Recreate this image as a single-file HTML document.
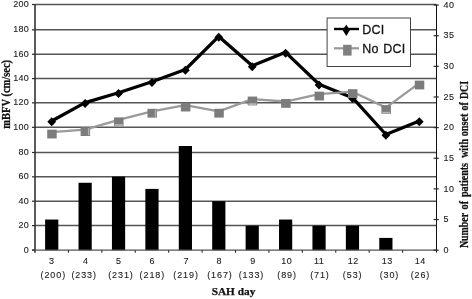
<!DOCTYPE html><html><head><meta charset="utf-8"><style>html,body{margin:0;padding:0;background:#fff;overflow:hidden}svg{display:block;will-change:transform}text{font-family:"Liberation Sans",sans-serif}.l{stroke:#1a1a1a;stroke-width:0.1}.t{font-family:"Liberation Serif",serif;font-weight:bold;stroke:#111;stroke-width:0.25}</style></head><body>
<svg width="472" height="299" viewBox="0 0 472 299">
<rect width="472" height="299" fill="#fff"/>
<line x1="35.0" y1="225.60" x2="436.0" y2="225.60" stroke="#555" stroke-width="1.5"/>
<line x1="35.0" y1="201.20" x2="436.0" y2="201.20" stroke="#555" stroke-width="1.5"/>
<line x1="35.0" y1="176.85" x2="436.0" y2="176.85" stroke="#555" stroke-width="1.5"/>
<line x1="35.0" y1="152.50" x2="436.0" y2="152.50" stroke="#555" stroke-width="1.5"/>
<line x1="35.0" y1="127.35" x2="436.0" y2="127.35" stroke="#555" stroke-width="1.5"/>
<line x1="35.0" y1="102.85" x2="436.0" y2="102.85" stroke="#555" stroke-width="1.5"/>
<line x1="35.0" y1="78.60" x2="436.0" y2="78.60" stroke="#555" stroke-width="1.5"/>
<line x1="35.0" y1="54.30" x2="436.0" y2="54.30" stroke="#555" stroke-width="1.5"/>
<line x1="35.0" y1="29.85" x2="436.0" y2="29.85" stroke="#555" stroke-width="1.5"/>
<line x1="35.0" y1="4.50" x2="436.0" y2="4.50" stroke="#555" stroke-width="1.5"/>
<rect x="45.11" y="219.54" width="13.2" height="30.64" fill="#000"/>
<rect x="78.53" y="182.77" width="13.2" height="67.41" fill="#000"/>
<rect x="111.94" y="176.64" width="13.2" height="73.54" fill="#000"/>
<rect x="145.36" y="188.90" width="13.2" height="61.28" fill="#000"/>
<rect x="178.78" y="146.00" width="13.2" height="104.18" fill="#000"/>
<rect x="212.19" y="201.16" width="13.2" height="49.02" fill="#000"/>
<rect x="245.61" y="225.67" width="13.2" height="24.51" fill="#000"/>
<rect x="279.02" y="219.54" width="13.2" height="30.64" fill="#000"/>
<rect x="312.44" y="225.67" width="13.2" height="24.51" fill="#000"/>
<rect x="345.86" y="225.67" width="13.2" height="24.51" fill="#000"/>
<rect x="379.27" y="237.92" width="13.2" height="12.26" fill="#000"/>
<line x1="35.0" y1="4.460000000000003" x2="35.0" y2="252.68" stroke="#333" stroke-width="1.6"/>
<line x1="436.5" y1="4.460000000000003" x2="436.5" y2="252.58" stroke="#111" stroke-width="1.05"/>
<line x1="32.0" y1="250.18" x2="436.0" y2="250.18" stroke="#555" stroke-width="1.3"/>
<line x1="32.0" y1="250.00" x2="35.0" y2="250.00" stroke="#2a2a2a" stroke-width="1.2"/>
<line x1="32.0" y1="225.60" x2="35.0" y2="225.60" stroke="#2a2a2a" stroke-width="1.2"/>
<line x1="32.0" y1="201.20" x2="35.0" y2="201.20" stroke="#2a2a2a" stroke-width="1.2"/>
<line x1="32.0" y1="176.85" x2="35.0" y2="176.85" stroke="#2a2a2a" stroke-width="1.2"/>
<line x1="32.0" y1="152.50" x2="35.0" y2="152.50" stroke="#2a2a2a" stroke-width="1.2"/>
<line x1="32.0" y1="127.35" x2="35.0" y2="127.35" stroke="#2a2a2a" stroke-width="1.2"/>
<line x1="32.0" y1="102.85" x2="35.0" y2="102.85" stroke="#2a2a2a" stroke-width="1.2"/>
<line x1="32.0" y1="78.60" x2="35.0" y2="78.60" stroke="#2a2a2a" stroke-width="1.2"/>
<line x1="32.0" y1="54.30" x2="35.0" y2="54.30" stroke="#2a2a2a" stroke-width="1.2"/>
<line x1="32.0" y1="29.85" x2="35.0" y2="29.85" stroke="#2a2a2a" stroke-width="1.2"/>
<line x1="32.0" y1="4.50" x2="35.0" y2="4.50" stroke="#2a2a2a" stroke-width="1.2"/>
<line x1="433.6" y1="250.18" x2="438.8" y2="250.18" stroke="#2a2a2a" stroke-width="1.2"/>
<line x1="433.6" y1="219.54" x2="438.8" y2="219.54" stroke="#2a2a2a" stroke-width="1.2"/>
<line x1="433.6" y1="188.90" x2="438.8" y2="188.90" stroke="#2a2a2a" stroke-width="1.2"/>
<line x1="433.6" y1="158.26" x2="438.8" y2="158.26" stroke="#2a2a2a" stroke-width="1.2"/>
<line x1="433.6" y1="127.62" x2="438.8" y2="127.62" stroke="#2a2a2a" stroke-width="1.2"/>
<line x1="433.6" y1="96.98" x2="438.8" y2="96.98" stroke="#2a2a2a" stroke-width="1.2"/>
<line x1="433.6" y1="66.34" x2="438.8" y2="66.34" stroke="#2a2a2a" stroke-width="1.2"/>
<line x1="433.6" y1="35.70" x2="438.8" y2="35.70" stroke="#2a2a2a" stroke-width="1.2"/>
<line x1="433.6" y1="5.06" x2="438.8" y2="5.06" stroke="#2a2a2a" stroke-width="1.2"/>
<line x1="68.42" y1="250.18" x2="68.42" y2="252.78" stroke="#2a2a2a" stroke-width="1.1"/>
<line x1="101.83" y1="250.18" x2="101.83" y2="252.78" stroke="#2a2a2a" stroke-width="1.1"/>
<line x1="135.25" y1="250.18" x2="135.25" y2="252.78" stroke="#2a2a2a" stroke-width="1.1"/>
<line x1="168.67" y1="250.18" x2="168.67" y2="252.78" stroke="#2a2a2a" stroke-width="1.1"/>
<line x1="202.08" y1="250.18" x2="202.08" y2="252.78" stroke="#2a2a2a" stroke-width="1.1"/>
<line x1="235.50" y1="250.18" x2="235.50" y2="252.78" stroke="#2a2a2a" stroke-width="1.1"/>
<line x1="268.92" y1="250.18" x2="268.92" y2="252.78" stroke="#2a2a2a" stroke-width="1.1"/>
<line x1="302.33" y1="250.18" x2="302.33" y2="252.78" stroke="#2a2a2a" stroke-width="1.1"/>
<line x1="335.75" y1="250.18" x2="335.75" y2="252.78" stroke="#2a2a2a" stroke-width="1.1"/>
<line x1="369.17" y1="250.18" x2="369.17" y2="252.78" stroke="#2a2a2a" stroke-width="1.1"/>
<line x1="402.58" y1="250.18" x2="402.58" y2="252.78" stroke="#2a2a2a" stroke-width="1.1"/>
<path d="M51.71,120.99 L85.12,102.61 L118.54,92.80 L151.96,81.77 L185.38,69.52 L218.79,36.43 L252.21,65.84 L285.62,52.36 L319.04,84.22 L352.46,97.71 L385.88,134.47 L419.29,120.99" fill="none" stroke="#000" stroke-width="3.25" stroke-linejoin="round"/>
<path d="M51.71,117.29 L56.11,121.79 L51.71,126.29 L47.31,121.79Z" fill="#000"/>
<path d="M85.12,98.91 L89.53,103.41 L85.12,107.91 L80.72,103.41Z" fill="#000"/>
<path d="M118.54,89.10 L122.94,93.60 L118.54,98.10 L114.14,93.60Z" fill="#000"/>
<path d="M151.96,78.07 L156.36,82.57 L151.96,87.07 L147.56,82.57Z" fill="#000"/>
<path d="M185.38,65.82 L189.78,70.32 L185.38,74.82 L180.97,70.32Z" fill="#000"/>
<path d="M218.79,32.73 L223.19,37.23 L218.79,41.73 L214.39,37.23Z" fill="#000"/>
<path d="M252.21,62.14 L256.61,66.64 L252.21,71.14 L247.81,66.64Z" fill="#000"/>
<path d="M285.62,48.66 L290.02,53.16 L285.62,57.66 L281.23,53.16Z" fill="#000"/>
<path d="M319.04,80.52 L323.44,85.02 L319.04,89.52 L314.64,85.02Z" fill="#000"/>
<path d="M352.46,94.01 L356.86,98.51 L352.46,103.01 L348.06,98.51Z" fill="#000"/>
<path d="M385.88,130.77 L390.27,135.27 L385.88,139.77 L381.48,135.27Z" fill="#000"/>
<path d="M419.29,117.29 L423.69,121.79 L419.29,126.29 L414.89,121.79Z" fill="#000"/>
<path d="M51.71,132.15 L85.12,129.70 L118.54,119.89 L151.96,111.31 L185.38,105.18 L218.79,111.31 L252.21,99.06 L285.62,101.51 L319.04,94.15 L352.46,91.70 L385.88,107.64 L419.29,83.12" fill="none" stroke="#9a9a9a" stroke-width="2.3" stroke-linejoin="round"/>
<rect x="47.21" y="129.65" width="9.5" height="8.8" fill="#7c7c7c"/>
<rect x="80.62" y="127.20" width="9.5" height="8.8" fill="#7c7c7c"/>
<rect x="87.92" y="128.00" width="1.5" height="7.2" fill="#b0b0b0"/>
<rect x="114.04" y="117.39" width="9.5" height="8.8" fill="#7c7c7c"/>
<rect x="114.84" y="124.09" width="7.9" height="1.9" fill="#b4b4b4"/>
<rect x="147.46" y="108.81" width="9.5" height="8.8" fill="#7c7c7c"/>
<rect x="154.76" y="109.61" width="1.5" height="7.2" fill="#b0b0b0"/>
<rect x="180.88" y="102.68" width="9.5" height="8.8" fill="#7c7c7c"/>
<rect x="214.29" y="108.81" width="9.5" height="8.8" fill="#7c7c7c"/>
<rect x="247.71" y="96.56" width="9.5" height="8.8" fill="#7c7c7c"/>
<rect x="248.51" y="103.26" width="7.9" height="1.9" fill="#b4b4b4"/>
<rect x="281.12" y="99.01" width="9.5" height="8.8" fill="#7c7c7c"/>
<rect x="314.54" y="91.65" width="9.5" height="8.8" fill="#7c7c7c"/>
<rect x="347.96" y="89.20" width="9.5" height="8.8" fill="#7c7c7c"/>
<rect x="381.38" y="105.14" width="9.5" height="8.8" fill="#7c7c7c"/>
<rect x="382.18" y="111.84" width="7.9" height="1.9" fill="#b4b4b4"/>
<rect x="414.79" y="80.62" width="9.5" height="8.8" fill="#7c7c7c"/>
<text transform="translate(29.2,252.60) scale(1,1.08)" class="l" font-size="9.0" fill="#1a1a1a" text-anchor="end" letter-spacing="0.35">0</text>
<text transform="translate(29.2,228.20) scale(1,1.08)" class="l" font-size="9.0" fill="#1a1a1a" text-anchor="end" letter-spacing="0.35">20</text>
<text transform="translate(29.2,203.80) scale(1,1.08)" class="l" font-size="9.0" fill="#1a1a1a" text-anchor="end" letter-spacing="0.35">40</text>
<text transform="translate(29.2,179.45) scale(1,1.08)" class="l" font-size="9.0" fill="#1a1a1a" text-anchor="end" letter-spacing="0.35">60</text>
<text transform="translate(29.2,155.10) scale(1,1.08)" class="l" font-size="9.0" fill="#1a1a1a" text-anchor="end" letter-spacing="0.35">80</text>
<text transform="translate(29.2,129.95) scale(1,1.08)" class="l" font-size="9.0" fill="#1a1a1a" text-anchor="end" letter-spacing="0.35">100</text>
<text transform="translate(29.2,105.45) scale(1,1.08)" class="l" font-size="9.0" fill="#1a1a1a" text-anchor="end" letter-spacing="0.35">120</text>
<text transform="translate(29.2,81.20) scale(1,1.08)" class="l" font-size="9.0" fill="#1a1a1a" text-anchor="end" letter-spacing="0.35">140</text>
<text transform="translate(29.2,56.90) scale(1,1.08)" class="l" font-size="9.0" fill="#1a1a1a" text-anchor="end" letter-spacing="0.35">160</text>
<text transform="translate(29.2,32.45) scale(1,1.08)" class="l" font-size="9.0" fill="#1a1a1a" text-anchor="end" letter-spacing="0.35">180</text>
<text transform="translate(29.2,7.10) scale(1,1.08)" class="l" font-size="9.0" fill="#1a1a1a" text-anchor="end" letter-spacing="0.35">200</text>
<text transform="translate(443.6,252.83) scale(1,1.08)" class="l" font-size="9.0" fill="#1a1a1a" letter-spacing="0.5">0</text>
<text transform="translate(443.6,222.19) scale(1,1.08)" class="l" font-size="9.0" fill="#1a1a1a" letter-spacing="0.5">5</text>
<text transform="translate(443.6,191.55) scale(1,1.08)" class="l" font-size="9.0" fill="#1a1a1a" letter-spacing="0.5">10</text>
<text transform="translate(443.6,160.91) scale(1,1.08)" class="l" font-size="9.0" fill="#1a1a1a" letter-spacing="0.5">15</text>
<text transform="translate(443.6,130.27) scale(1,1.08)" class="l" font-size="9.0" fill="#1a1a1a" letter-spacing="0.5">20</text>
<text transform="translate(443.6,99.63) scale(1,1.08)" class="l" font-size="9.0" fill="#1a1a1a" letter-spacing="0.5">25</text>
<text transform="translate(443.6,68.99) scale(1,1.08)" class="l" font-size="9.0" fill="#1a1a1a" letter-spacing="0.5">30</text>
<text transform="translate(443.6,38.35) scale(1,1.08)" class="l" font-size="9.0" fill="#1a1a1a" letter-spacing="0.5">35</text>
<text transform="translate(443.6,7.71) scale(1,1.08)" class="l" font-size="9.0" fill="#1a1a1a" letter-spacing="0.5">40</text>
<text transform="translate(51.75,264.4) scale(1,1.08)" class="l" font-size="9.0" fill="#1a1a1a" text-anchor="middle" letter-spacing="0.5">3</text>
<text transform="translate(53.30,277.8) scale(1,1.08)" class="l" font-size="9.0" fill="#1a1a1a" text-anchor="middle" letter-spacing="0.9">(200)</text>
<text transform="translate(85.75,264.4) scale(1,1.08)" class="l" font-size="9.0" fill="#1a1a1a" text-anchor="middle" letter-spacing="0.5">4</text>
<text transform="translate(84.15,277.8) scale(1,1.08)" class="l" font-size="9.0" fill="#1a1a1a" text-anchor="middle" letter-spacing="0.9">(233)</text>
<text transform="translate(118.65,264.4) scale(1,1.08)" class="l" font-size="9.0" fill="#1a1a1a" text-anchor="middle" letter-spacing="0.5">5</text>
<text transform="translate(120.95,277.8) scale(1,1.08)" class="l" font-size="9.0" fill="#1a1a1a" text-anchor="middle" letter-spacing="0.9">(231)</text>
<text transform="translate(152.35,264.4) scale(1,1.08)" class="l" font-size="9.0" fill="#1a1a1a" text-anchor="middle" letter-spacing="0.5">6</text>
<text transform="translate(152.35,277.8) scale(1,1.08)" class="l" font-size="9.0" fill="#1a1a1a" text-anchor="middle" letter-spacing="0.9">(218)</text>
<text transform="translate(186.15,264.4) scale(1,1.08)" class="l" font-size="9.0" fill="#1a1a1a" text-anchor="middle" letter-spacing="0.5">7</text>
<text transform="translate(186.05,277.8) scale(1,1.08)" class="l" font-size="9.0" fill="#1a1a1a" text-anchor="middle" letter-spacing="0.9">(219)</text>
<text transform="translate(219.35,264.4) scale(1,1.08)" class="l" font-size="9.0" fill="#1a1a1a" text-anchor="middle" letter-spacing="0.5">8</text>
<text transform="translate(219.95,277.8) scale(1,1.08)" class="l" font-size="9.0" fill="#1a1a1a" text-anchor="middle" letter-spacing="0.9">(167)</text>
<text transform="translate(252.95,264.4) scale(1,1.08)" class="l" font-size="9.0" fill="#1a1a1a" text-anchor="middle" letter-spacing="0.5">9</text>
<text transform="translate(251.45,277.8) scale(1,1.08)" class="l" font-size="9.0" fill="#1a1a1a" text-anchor="middle" letter-spacing="0.9">(133)</text>
<text transform="translate(286.75,264.4) scale(1,1.08)" class="l" font-size="9.0" fill="#1a1a1a" text-anchor="middle" letter-spacing="0.5">10</text>
<text transform="translate(287.05,277.8) scale(1,1.08)" class="l" font-size="9.0" fill="#1a1a1a" text-anchor="middle" letter-spacing="0.9">(89)</text>
<text transform="translate(319.15,264.4) scale(1,1.08)" class="l" font-size="9.0" fill="#1a1a1a" text-anchor="middle" letter-spacing="0.5">11</text>
<text transform="translate(319.95,277.8) scale(1,1.08)" class="l" font-size="9.0" fill="#1a1a1a" text-anchor="middle" letter-spacing="0.9">(71)</text>
<text transform="translate(353.15,264.4) scale(1,1.08)" class="l" font-size="9.0" fill="#1a1a1a" text-anchor="middle" letter-spacing="0.5">12</text>
<text transform="translate(352.65,277.8) scale(1,1.08)" class="l" font-size="9.0" fill="#1a1a1a" text-anchor="middle" letter-spacing="0.9">(53)</text>
<text transform="translate(387.35,264.4) scale(1,1.08)" class="l" font-size="9.0" fill="#1a1a1a" text-anchor="middle" letter-spacing="0.5">13</text>
<text transform="translate(389.45,277.8) scale(1,1.08)" class="l" font-size="9.0" fill="#1a1a1a" text-anchor="middle" letter-spacing="0.9">(30)</text>
<text transform="translate(420.25,264.4) scale(1,1.08)" class="l" font-size="9.0" fill="#1a1a1a" text-anchor="middle" letter-spacing="0.5">14</text>
<text transform="translate(420.45,277.8) scale(1,1.08)" class="l" font-size="9.0" fill="#1a1a1a" text-anchor="middle" letter-spacing="0.9">(26)</text>
<text class="t" x="233.5" y="294.6" font-size="11.3" fill="#111" text-anchor="middle">SAH day</text>
<text class="t" transform="translate(9.9,94.3) rotate(-90) scale(1,1.12)" font-size="10.5" fill="#111" text-anchor="middle">mBFV (cm/sec)</text>
<text class="t" transform="translate(467.5,248.1) rotate(-90) scale(0.84,1)" font-size="11.8" fill="#111">Number</text>
<text class="t" transform="translate(467.5,209.5) rotate(-90) scale(0.87,1)" font-size="11.8" fill="#111">of</text>
<text class="t" transform="translate(467.5,197.0) rotate(-90) scale(0.85,1)" font-size="11.8" fill="#111">patients</text>
<text class="t" transform="translate(467.5,157.8) rotate(-90) scale(0.84,1)" font-size="11.8" fill="#111">with</text>
<text class="t" transform="translate(467.5,136.3) rotate(-90) scale(0.87,1)" font-size="11.8" fill="#111">onset</text>
<text class="t" transform="translate(467.5,110.4) rotate(-90) scale(0.85,1)" font-size="11.8" fill="#111">of</text>
<text class="t" transform="translate(467.5,99.0) rotate(-90) scale(0.83,1)" font-size="11.8" fill="#111">DCI</text>
<rect x="327.1" y="18" width="83.4" height="48.5" fill="#fff" stroke="#444" stroke-width="1"/>
<line x1="334" y1="29" x2="359" y2="29" stroke="#000" stroke-width="2.4"/>
<path d="M346.3,24.8 L350,30 L346.3,36 L342.6,30Z" fill="#000"/>
<line x1="334" y1="48.3" x2="359" y2="48.3" stroke="#999" stroke-width="2.2"/>
<rect x="343.1" y="44.8" width="8.5" height="10.8" fill="#808080"/>
<text transform="translate(362.2,33.7) scale(1.04,1)" font-size="12" fill="#111" stroke="#111" stroke-width="0.25" letter-spacing="0.3">DCI</text>
<text transform="translate(362.2,53.4) scale(1.04,1)" font-size="12" fill="#111" stroke="#111" stroke-width="0.25" letter-spacing="0.3" word-spacing="0.6">No DCI</text>
</svg></body></html>
